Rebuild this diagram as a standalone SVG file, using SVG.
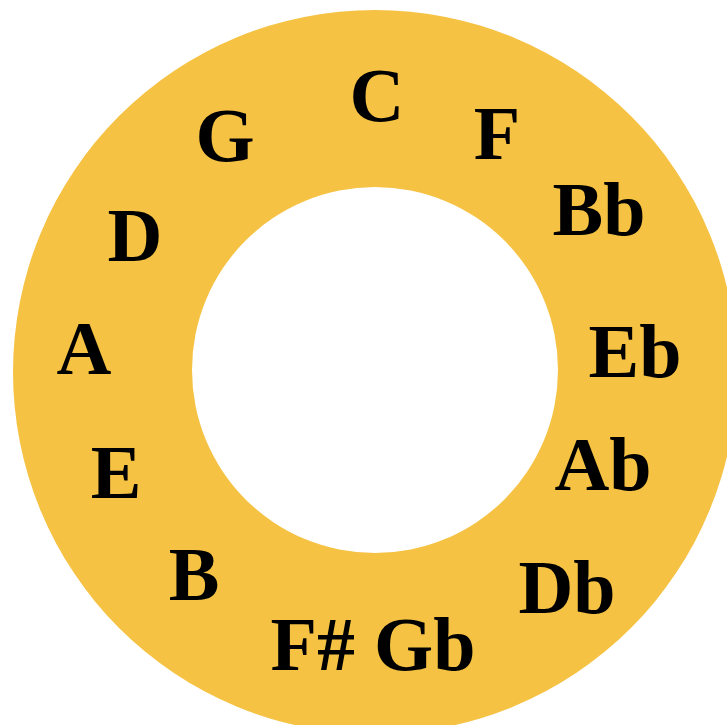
<svg xmlns="http://www.w3.org/2000/svg" width="727" height="725" viewBox="0 0 727 725">
<style>
.ring{fill:#F5C243;}
.hole{fill:#FFFFFF;}
text{font-family:"Liberation Serif","Times New Roman",serif;font-weight:bold;font-size:76px;fill:#000;text-anchor:middle;}
</style>
<rect width="727" height="725" fill="#FFFFFF"/>
<g id="ring">
<circle class="ring" cx="375" cy="372" r="362"/>
<circle class="hole" cx="375" cy="370" r="183"/>
</g>
<g id="notes">
<g id="C"><text x="377" y="121">C</text></g>
<g id="G"><text x="225" y="161">G</text></g>
<g id="F"><text x="497" y="159">F</text></g>
<g id="Bb"><text x="599" y="235">Bb</text></g>
<g id="D"><text x="135" y="261">D</text></g>
<g id="Eb"><text x="635" y="377">Eb</text></g>
<g id="A"><text x="84" y="374">A</text></g>
<g id="Ab"><text x="603" y="490">Ab</text></g>
<g id="E"><text x="116" y="498">E</text></g>
<g id="Db"><text x="567" y="613">Db</text></g>
<g id="B"><text x="194" y="600">B</text></g>
<g id="FsGb"><text x="373" y="670">F# Gb</text></g>
</g>
</svg>
